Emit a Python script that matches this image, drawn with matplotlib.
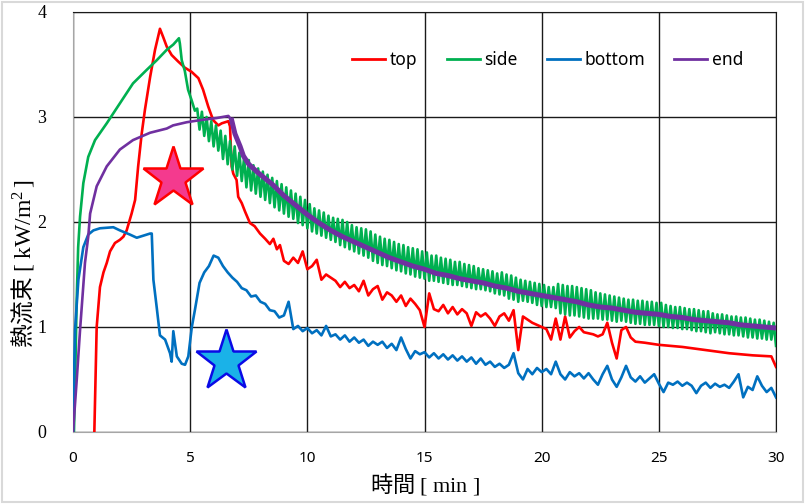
import numpy as np
import matplotlib
matplotlib.use('Agg')
import matplotlib.pyplot as plt
from matplotlib.patches import Rectangle

plt.rcParams['font.family'] = ['Noto Sans CJK JP', 'DejaVu Sans']
plt.rcParams['mathtext.fontset'] = 'custom'
plt.rcParams['mathtext.rm'] = 'Liberation Serif'
plt.rcParams['mathtext.it'] = 'Liberation Serif:italic'

# ---- data (time [min], heat flux [kW/m2]) ----
top_t_head = [0.88, 0.91, 0.96, 1.01, 1.15, 1.3, 1.44, 1.58, 1.79, 2.0, 2.15, 2.29, 2.5, 2.65,
              2.78, 2.93, 3.07, 3.29, 3.5, 3.71, 3.85, 4.0, 4.21, 4.48, 4.77, 5.06, 5.35, 5.55,
              5.77, 5.98, 6.2, 6.35, 6.63, 6.7, 6.77, 6.84, 6.98, 7.05, 7.2, 7.34, 7.55, 7.75,
              7.98, 8.2, 8.4, 8.55, 8.7, 8.83]
top_v_head = [-0.1, 0.0, 0.5, 1.0, 1.38, 1.52, 1.61, 1.72, 1.80, 1.83, 1.86, 1.92, 2.08, 2.21,
              2.53, 2.84, 3.07, 3.38, 3.64, 3.84, 3.76, 3.67, 3.59, 3.53, 3.47, 3.43, 3.37, 3.26,
              3.10, 2.97, 2.92, 2.94, 2.96, 2.91, 2.53, 2.46, 2.40, 2.24, 2.18, 2.10, 1.99, 1.96,
              1.89, 1.84, 1.79, 1.84, 1.74, 1.78]
top_v_mid = [1.63, 1.60, 1.66, 1.61, 1.72, 1.55, 1.58, 1.64, 1.45, 1.50,
             1.47, 1.44, 1.38, 1.43, 1.37, 1.40, 1.34, 1.44, 1.30, 1.36,
             1.39, 1.26, 1.33, 1.30, 1.24, 1.30, 1.20, 1.27, 1.22, 1.16,
             1.00, 1.32, 1.17, 1.15, 1.21, 1.13, 1.19, 1.12, 1.17, 1.13,
             1.01, 1.14, 1.10, 1.13, 1.08, 1.01, 1.10, 1.13, 1.06, 1.16,
             0.78, 1.10, 1.07, 1.04, 1.02, 1.00, 0.98, 0.88, 1.08, 0.88,
             1.10, 0.90, 0.96, 1.00, 0.95, 0.94, 0.93, 0.91, 0.93, 1.04,
             0.85, 0.70, 0.97, 1.00, 0.90, 0.86]
top_t_end = [24.4, 25.0, 26.0, 27.0, 28.0, 29.0, 29.8, 30.0]
top_v_end = [0.85, 0.83, 0.81, 0.78, 0.75, 0.73, 0.72, 0.62]

side_t_head = [0.04, 0.1, 0.15, 0.22, 0.3, 0.44, 0.65, 0.94, 1.44, 2.0, 2.56, 3.15, 3.57, 4.0,
               4.28, 4.52, 4.56, 4.64, 4.77, 4.91, 5.06, 5.2]
side_v_head = [0.0, 0.6, 1.2, 1.76, 2.05, 2.37, 2.62, 2.78, 2.94, 3.13, 3.32, 3.45, 3.54, 3.64,
               3.69, 3.75, 3.70, 3.54, 3.44, 3.26, 3.16, 3.06]
side_v_tail = [3.08, 2.88, 3.05, 2.82, 3.00, 2.77, 2.96, 2.72, 2.92, 2.68,
               2.87, 2.60, 2.82, 2.55, 2.77, 2.50, 2.72, 2.44, 2.66, 2.39,
               2.61, 2.33, 2.59, 2.30, 2.54, 2.27, 2.51, 2.24, 2.48, 2.21,
               2.45, 2.18, 2.42, 2.14, 2.39, 2.11, 2.36, 2.08, 2.33, 2.05,
               2.30, 2.03, 2.27, 1.99, 2.24, 1.97, 2.21, 1.94, 2.17, 1.91,
               2.13, 1.89, 2.11, 1.87, 2.09, 1.85, 2.06, 1.83, 2.04, 1.81,
               2.03, 1.78, 2.02, 1.76, 2.00, 1.74, 1.97, 1.72, 1.95, 1.70,
               1.94, 1.68, 1.93, 1.66, 1.91, 1.63, 1.88, 1.61, 1.86, 1.59,
               1.84, 1.58, 1.83, 1.56, 1.81, 1.54, 1.79, 1.53, 1.78, 1.51,
               1.76, 1.50, 1.75, 1.48, 1.74, 1.47, 1.72, 1.46, 1.71, 1.44,
               1.68, 1.44, 1.68, 1.43, 1.66, 1.42, 1.65, 1.41, 1.64, 1.40,
               1.62, 1.40, 1.62, 1.39, 1.60, 1.38, 1.59, 1.37, 1.58, 1.36,
               1.56, 1.36, 1.55, 1.35, 1.54, 1.34, 1.53, 1.32, 1.51, 1.31,
               1.52, 1.30, 1.50, 1.27, 1.49, 1.26, 1.47, 1.24, 1.45, 1.25,
               1.44, 1.24, 1.43, 1.23, 1.42, 1.21, 1.41, 1.20, 1.40, 1.19,
               1.38, 1.19, 1.38, 1.18, 1.41, 1.13, 1.40, 1.12, 1.39, 1.11,
               1.39, 1.11, 1.38, 1.10, 1.37, 1.09, 1.36, 1.08, 1.35, 1.08,
               1.33, 1.08, 1.32, 1.07, 1.31, 1.07, 1.30, 1.06, 1.29, 1.05,
               1.28, 1.06, 1.27, 1.05, 1.26, 1.04, 1.26, 1.03, 1.25, 1.03,
               1.25, 1.02, 1.24, 1.02, 1.24, 1.02, 1.23, 1.01, 1.23, 1.00,
               1.21, 1.00, 1.20, 0.99, 1.19, 0.99, 1.19, 0.98, 1.18, 0.98,
               1.17, 0.97, 1.17, 0.96, 1.16, 0.96, 1.15, 0.95, 1.15, 0.94,
               1.13, 0.95, 1.12, 0.94, 1.12, 0.93, 1.11, 0.93, 1.10, 0.92,
               1.10, 0.92, 1.09, 0.91, 1.09, 0.90, 1.08, 0.90, 1.07, 0.89,
               1.07, 0.89, 1.06, 0.88, 1.05, 0.88, 1.04, 0.82]

bottom_t_head = [0.0, 0.04, 0.085, 0.23, 0.44, 0.65, 0.87, 1.15, 1.72, 2.0, 2.43, 2.72, 3.0,
                 3.29, 3.36, 3.43, 3.57, 3.71, 3.93, 4.14, 4.21, 4.28, 4.43, 4.64, 4.78, 4.92,
                 5.07]
bottom_v_head = [0.0, 0.5, 0.97, 1.45, 1.76, 1.88, 1.92, 1.94, 1.95, 1.92, 1.88, 1.85, 1.87,
                 1.89, 1.89, 1.45, 1.19, 0.92, 0.88, 0.75, 0.67, 0.96, 0.72, 0.65, 0.64, 0.72,
                 1.0]
bottom_v_tail = [1.16, 1.42, 1.52, 1.58, 1.68, 1.66, 1.58, 1.52, 1.47, 1.43,
                 1.37, 1.35, 1.29, 1.30, 1.24, 1.22, 1.16, 1.15, 1.09, 1.11,
                 1.24, 0.98, 1.01, 0.96, 0.99, 0.94, 0.97, 0.92, 1.01, 0.91,
                 0.93, 0.88, 0.92, 0.86, 0.90, 0.85, 0.88, 0.82, 0.86, 0.83,
                 0.86, 0.80, 0.84, 0.78, 0.90, 0.79, 0.70, 0.77, 0.74, 0.76,
                 0.71, 0.75, 0.70, 0.74, 0.69, 0.73, 0.68, 0.72, 0.67, 0.71,
                 0.65, 0.70, 0.64, 0.67, 0.62, 0.65, 0.61, 0.64, 0.75, 0.56,
                 0.50, 0.60, 0.55, 0.61, 0.57, 0.60, 0.55, 0.67, 0.55, 0.50,
                 0.57, 0.53, 0.56, 0.51, 0.56, 0.50, 0.45, 0.55, 0.63, 0.50,
                 0.43, 0.52, 0.63, 0.52, 0.48, 0.53, 0.47, 0.51, 0.55, 0.46,
                 0.38, 0.47, 0.45, 0.48, 0.44, 0.47, 0.44, 0.37, 0.44, 0.47,
                 0.42, 0.46, 0.43, 0.45, 0.42, 0.48, 0.55, 0.33, 0.43, 0.40,
                 0.53, 0.44, 0.38, 0.42, 0.33]

end_t = [0.0, 0.16, 0.3, 0.51, 0.65, 0.73, 1.01, 1.44, 2.0, 2.56, 3.29, 4.0, 4.27, 4.85, 5.42,
         6.13, 6.63, 6.77, 6.91, 7.13, 7.27, 7.5, 7.84, 8.0, 8.5, 9.0, 9.5, 10.0, 10.5, 11.0,
         11.5, 12.0, 12.5, 13.0, 13.5, 14.0, 14.5, 15.0, 15.5, 16.0, 16.5, 17.0, 17.5, 18.0,
         18.5, 19.0, 19.5, 20.0, 20.5, 21.0, 21.5, 22.0, 22.5, 23.0, 23.5, 24.0, 24.5, 25.0,
         25.5, 26.0, 26.5, 27.0, 27.5, 28.0, 28.5, 29.0, 29.5, 30.0]
end_v = [0.0, 0.5, 0.97, 1.61, 1.86, 2.08, 2.34, 2.53, 2.69, 2.78, 2.85, 2.89, 2.92, 2.95, 2.97,
         2.99, 3.01, 2.97, 2.84, 2.72, 2.63, 2.55, 2.48, 2.45, 2.36, 2.25, 2.16, 2.07, 1.99, 1.92,
         1.86, 1.81, 1.76, 1.71, 1.66, 1.62, 1.58, 1.55, 1.51, 1.49, 1.46, 1.44, 1.42, 1.39,
         1.37, 1.34, 1.32, 1.30, 1.28, 1.26, 1.24, 1.21, 1.19, 1.18, 1.16, 1.14, 1.13, 1.12,
         1.10, 1.09, 1.07, 1.06, 1.05, 1.04, 1.02, 1.01, 1.00, 0.99]

series_names = ['top', 'side', 'bottom', 'end']
series_colors = ['#FF0000', '#00B050', '#0070C0', '#7030A0']

# sampling grids of the noisy parts
top_t_mid = np.linspace(9.0, 24.0, len(top_v_mid))
side_t_tail = np.linspace(5.3, 30.0, len(side_v_tail))
bottom_t_tail = np.linspace(5.2, 30.0, len(bottom_v_tail))

top_t = np.concatenate([top_t_head, top_t_mid, top_t_end])
top_v = np.concatenate([top_v_head, top_v_mid, top_v_end])
side_t = np.concatenate([side_t_head, side_t_tail])
side_v = np.concatenate([side_v_head, side_v_tail])
bottom_t = np.concatenate([bottom_t_head, bottom_t_tail])
bottom_v = np.concatenate([bottom_v_head, bottom_v_tail])

# star markers
star_x = [4.27, 6.54]
star_y = [2.42, 0.68]

fig = plt.figure(figsize=(8.05, 5.04), dpi=100)
ax = fig.add_axes([0.0907, 0.1429, 0.8733, 0.8333])

ax.plot(top_t, top_v, color=series_colors[0], lw=1.9, label=series_names[0], zorder=3)
ax.plot(side_t, side_v, color=series_colors[1], lw=1.9, label=series_names[1], zorder=3)
ax.plot(bottom_t, bottom_v, color=series_colors[2], lw=1.9, label=series_names[2], zorder=3)
# the "end" trace is thin while smooth and looks thick where it is noisy
k = 18
ax.plot(end_t[:k], end_v[:k], color=series_colors[3], lw=1.9, label=series_names[3], zorder=4)
ax.plot(end_t[k - 1:], end_v[k - 1:], color=series_colors[3], lw=3.6, zorder=4)

ax.plot(star_x[0], star_y[0], marker='*', ms=46, mfc='#F43A8E', mec='#FF0000', mew=1.8,
        zorder=5, clip_on=False)
ax.plot(star_x[1], star_y[1], marker='*', ms=46, mfc='#1AB2E8', mec='#0A0AE6', mew=1.8,
        zorder=5, clip_on=False)

ax.set_xlim(0, 30)
ax.set_ylim(0, 4)
ax.set_xticks([0, 5, 10, 15, 20, 25, 30])
ax.set_yticks([0, 1, 2, 3, 4])
ax.grid(True, color='#1a1a1a', lw=1.0)
ax.set_axisbelow(True)
ax.tick_params(length=0)
ax.tick_params(axis='x', pad=14)
ax.tick_params(axis='y', pad=19)
for lbl in ax.get_xticklabels():
    lbl.set_fontfamily('Noto Sans')
    lbl.set_fontsize(11)
for lbl in ax.get_yticklabels():
    lbl.set_fontfamily('Liberation Serif')
    lbl.set_fontsize(13)

ax.spines['left'].set_color('#a6a6a6')
ax.spines['bottom'].set_color('#a6a6a6')
ax.spines['top'].set_color('#1a1a1a')
ax.spines['right'].set_color('#1a1a1a')

ax.set_xlabel(r'時間 $[\ \mathrm{min}\ ]$', fontsize=16)
ax.xaxis.set_label_coords(0.5, -0.092)
ax.set_ylabel(r'熱流束 $[\ \mathrm{kW/m^2}\,]$', fontsize=17)
ax.yaxis.set_label_coords(-0.053, 0.40)

leg = ax.legend(loc='center', bbox_to_anchor=(0.675, 0.885), ncol=4, frameon=False,
                handlelength=1.9, handletextpad=0.25, columnspacing=1.7,
                prop={'family': 'Noto Sans', 'size': 12.5})
for line in leg.get_lines():
    line.set_linewidth(2.0)

fig.patches.append(Rectangle((0.002, 0.004), 0.996, 0.992, transform=fig.transFigure,
                             fill=False, edgecolor='#d9d9d9', lw=1.5))

fig.savefig('out.png', dpi=100)
